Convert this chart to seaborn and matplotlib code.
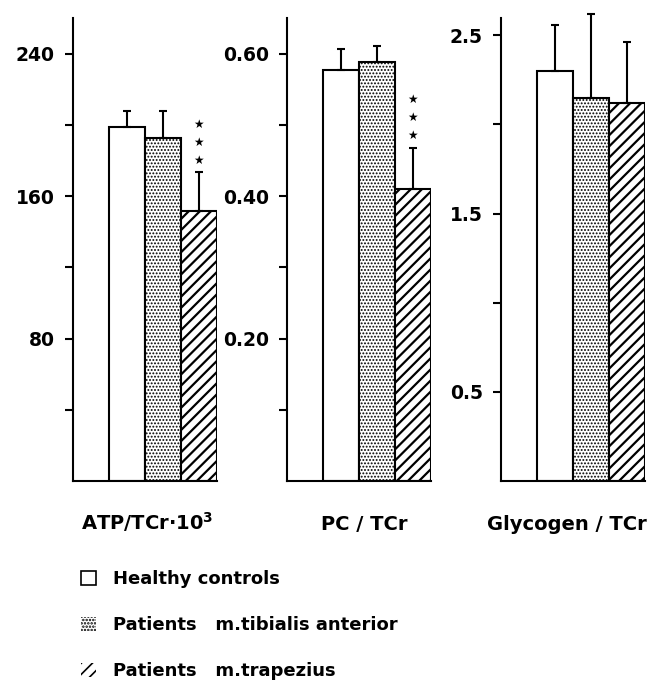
import numpy as np
import pandas as pd
import matplotlib
matplotlib.use("Agg")
import matplotlib.pyplot as plt
from matplotlib.patches import Patch
import seaborn as sns

# ---------------- data ----------------
groups = ["Healthy controls", "Patients m.tibialis anterior", "Patients m.trapezius"]
legend_labels = ["Healthy controls", "Patients   m.tibialis anterior", "Patients   m.trapezius"]
metric_labels = ["ATP/TCr\u00b710$^{3}$", "PC / TCr", "Glycogen / TCr"]

atp_mean = [199, 193, 151.5]
atp_sd = [9, 15, 22]
pc_mean = [0.578, 0.589, 0.410]
pc_sd = [0.029, 0.022, 0.058]
gly_mean = [2.30, 2.15, 2.12]
gly_sd = [0.26, 0.47, 0.34]

atp_sig = ["", "", "***"]
pc_sig = ["", "", "***"]
gly_sig = ["", "", ""]

atp_major = [80, 160, 240]
atp_major_labels = ["80", "160", "240"]
atp_minor = [40, 120, 200]
pc_major = [0.20, 0.40, 0.60]
pc_major_labels = ["0.20", "0.40", "0.60"]
pc_minor = [0.10, 0.30, 0.50]
gly_major = [0.5, 1.5, 2.5]
gly_major_labels = ["0.5", "1.5", "2.5"]
gly_minor = [1.0, 2.0]

y_top = [260, 0.65, 2.595]

# ---------------- style ----------------
sns.set_theme(style="ticks")
plt.rcParams["font.family"] = ["DejaVu Sans"]
plt.rcParams["font.weight"] = "bold"
plt.rcParams["text.color"] = "black"
plt.rcParams["axes.labelcolor"] = "black"
plt.rcParams["xtick.color"] = "black"
plt.rcParams["ytick.color"] = "black"
plt.rcParams["axes.edgecolor"] = "black"
plt.rcParams["mathtext.fontset"] = "dejavusans"
plt.rcParams["mathtext.default"] = "bf"
plt.rcParams["hatch.linewidth"] = 1.2

hatches = ["", ".....", "///"]
hatch_lw = [1.0, 0.9, 1.6]

fig = plt.figure(figsize=(6.52, 6.81), dpi=100)

W, H = 652.0, 681.0
lefts_px = [72.7, 286.7, 500.7]
width_px = 144.0
bottom_px = 481.0
top_px = 18.3
label_x = [0.516, 0.537, 0.46]

panels = [
    (atp_mean, atp_sd, atp_sig, atp_major, atp_major_labels, atp_minor),
    (pc_mean, pc_sd, pc_sig, pc_major, pc_major_labels, pc_minor),
    (gly_mean, gly_sd, gly_sig, gly_major, gly_major_labels, gly_minor),
]

for i, (means, sds, sigs, major, major_labels, minor) in enumerate(panels):
    ax = fig.add_axes([lefts_px[i] / W, 1 - bottom_px / H,
                       width_px / W, (bottom_px - top_px) / H])
    df = pd.DataFrame({"group": groups, "value": means})
    sns.barplot(data=df, x="group", y="value", hue="group",
                order=groups, hue_order=groups,
                palette={g: "white" for g in groups}, saturation=1,
                width=1.0, errorbar=None, edgecolor="black", linewidth=1.5,
                legend=False, ax=ax, zorder=2)
    xs = []
    for cont, hatch, hlw in zip(ax.containers, hatches, hatch_lw):
        for bar in cont:
            bar.set_hatch(hatch)
            bar.set_edgecolor("black")
            if hasattr(bar, "set_hatch_linewidth"):
                bar.set_hatch_linewidth(hlw)
            xs.append(bar.get_x() + bar.get_width() / 2)
    eb = ax.errorbar(xs, means, yerr=[np.zeros(len(sds)), sds], fmt="none",
                     ecolor="black", elinewidth=1.5, capsize=3, capthick=1.5,
                     zorder=3)
    for art in eb.lines:
        for a in (art if isinstance(art, tuple) else (art,)):
            if a is not None:
                a.set_clip_on(False)
    for x, m, s, sig in zip(xs, means, sds, sigs):
        if sig:
            ax.annotate("\n".join(["\u2605"] * len(sig)), (x, m + s),
                        xytext=(0, 4), textcoords="offset points",
                        ha="center", va="bottom", fontsize=8.5,
                        linespacing=1.5, color="black")

    ax.set_xlim(-1.5, 2.5)
    ax.set_ylim(0, y_top[i])
    ax.set_yticks(major, major_labels)
    ax.set_yticks(minor, minor=True)
    ax.set_xticks([])
    ax.set_xlabel("")
    ax.set_ylabel("")
    ax.tick_params(axis="y", which="both", direction="out", length=6,
                   width=1.5, color="black", pad=7, labelsize=13.5,
                   labelcolor="black")
    for lab in ax.get_yticklabels():
        lab.set_fontweight("bold")
    sns.despine(ax=ax)
    for side in ("left", "bottom"):
        ax.spines[side].set_linewidth(1.5)
        ax.spines[side].set_color("black")
    ax.text(label_x[i], -0.106, metric_labels[i], transform=ax.transAxes,
            ha="center", va="baseline", fontsize=14, fontweight="bold",
            color="black")

handles = []
for hatch, hlw in zip(hatches, hatch_lw):
    p = Patch(facecolor="white", edgecolor="black",
              linewidth=1.2 if hatch == "" else 0, hatch=hatch)
    if hasattr(p, "set_hatch_linewidth"):
        p.set_hatch_linewidth(hlw)
    handles.append(p)

leg = fig.legend(handles, legend_labels, loc="upper left",
                 bbox_to_anchor=(81 / W, 1 - 570 / H), frameon=False,
                 borderaxespad=0, borderpad=0, handlelength=0.85,
                 handleheight=0.85, handletextpad=0.9, labelspacing=1.55,
                 prop={"size": 13, "weight": "bold"})
for t in leg.get_texts():
    t.set_color("black")

fig.savefig("out.png", dpi=100, facecolor="white")
